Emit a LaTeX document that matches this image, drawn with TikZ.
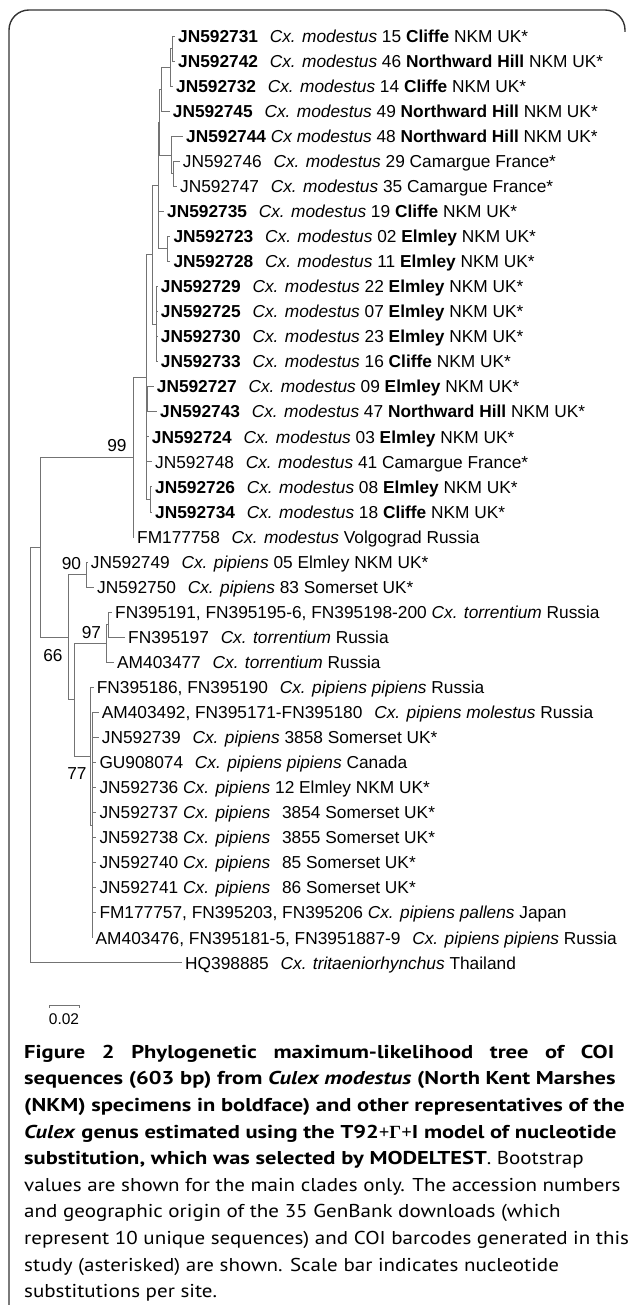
\documentclass[tikz,border=0pt]{standalone}
\usepackage{fontspec}
\setmainfont{Liberation Sans}
\newfontfamily\capreg{PT Sans}[FakeStretch=1.13]
\newfontfamily\capbold{PT Sans}[FakeStretch=1.21]
\newfontfamily\gkfont{Liberation Serif}
\newcommand\gap{\hspace{0.68em}}
\newcommand\bfc[1]{{\capbold\bfseries #1}}
\begin{document}
\begin{tikzpicture}[x=1pt,y=-1pt,
  br/.style={draw=black!55, line width=0.9pt},
  frame/.style={draw=black!80, line width=1.4pt, rounded corners=20pt},
  leaf/.style={anchor=west, inner xsep=3pt, inner ysep=0pt, text height=13pt, text depth=0.6pt, font=\fontsize{17.3}{20}\selectfont},
  boot/.style={anchor=base, inner sep=0pt, font=\fontsize{17.3}{20}\selectfont},
  captxt/.style={anchor=base west, inner sep=0pt, font=\capreg\fontsize{18.6}{22}\selectfont}]
\useasboundingbox (0,0) rectangle (627,1305);
% frame
\draw[frame] (9,1305) -- (9,10) -- (625,10) -- (625,32);
% leaves
\node[leaf] (l1) at (175,36.00) {\textbf{JN592731}\gap\textit{Cx. modestus} 15 \textbf{Cliffe} NKM UK*};
\node[leaf] (l2) at (175,61.05) {\textbf{JN592742}\gap\textit{Cx. modestus} 46 \textbf{Northward Hill} NKM UK*};
\node[leaf] (l3) at (173,86.10) {\textbf{JN592732}\gap\textit{Cx. modestus} 14 \textbf{Cliffe} NKM UK*};
\node[leaf] (l4) at (169.7,111.15) {\textbf{JN592745}\gap\textit{Cx. modestus} 49 \textbf{Northward Hill} NKM UK*};
\node[leaf] (l5) at (183,136.20) {\textbf{JN592744} \textit{Cx modestus} 48 \textbf{Northward Hill} NKM UK*};
\node[leaf] (l6) at (179.7,161.25) {JN592746\gap\textit{Cx. modestus} 29 Camargue France*};
\node[leaf] (l7) at (177,186.30) {JN592747\gap\textit{Cx. modestus} 35 Camargue France*};
\node[leaf] (l8) at (164,211.35) {\textbf{JN592735}\gap\textit{Cx. modestus} 19 \textbf{Cliffe} NKM UK*};
\node[leaf] (l9) at (170.3,236.40) {\textbf{JN592723}\gap\textit{Cx. modestus} 02 \textbf{Elmley} NKM UK*};
\node[leaf] (l10) at (170.3,261.45) {\textbf{JN592728}\gap\textit{Cx. modestus} 11 \textbf{Elmley} NKM UK*};
\node[leaf] (l11) at (157.7,286.50) {\textbf{JN592729}\gap\textit{Cx. modestus} 22 \textbf{Elmley} NKM UK*};
\node[leaf] (l12) at (157.7,311.55) {\textbf{JN592725}\gap\textit{Cx. modestus} 07 \textbf{Elmley} NKM UK*};
\node[leaf] (l13) at (157.7,336.60) {\textbf{JN592730}\gap\textit{Cx. modestus} 23 \textbf{Elmley} NKM UK*};
\node[leaf] (l14) at (157.7,361.65) {\textbf{JN592733}\gap\textit{Cx. modestus} 16 \textbf{Cliffe} NKM UK*};
\node[leaf] (l15) at (153.7,386.70) {\textbf{JN592727}\gap\textit{Cx. modestus} 09 \textbf{Elmley} NKM UK*};
\node[leaf] (l16) at (157,411.75) {\textbf{JN592743}\gap\textit{Cx. modestus} 47 \textbf{Northward Hill} NKM UK*};
\node[leaf] (l17) at (148.7,436.80) {\textbf{JN592724}\gap\textit{Cx. modestus} 03 \textbf{Elmley} NKM UK*};
\node[leaf] (l18) at (152,461.85) {JN592748\gap\textit{Cx. modestus} 41 Camargue France*};
\node[leaf] (l19) at (152,486.90) {\textbf{JN592726}\gap\textit{Cx. modestus} 08 \textbf{Elmley} NKM UK*};
\node[leaf] (l20) at (152,511.95) {\textbf{JN592734}\gap\textit{Cx. modestus} 18 \textbf{Cliffe} NKM UK*};
\node[leaf] (l21) at (134,537.00) {FM177758\gap\textit{Cx. modestus} Volgograd Russia};
\node[leaf] (l22) at (87.7,562.05) {JN592749\gap\textit{Cx. pipiens} 05 Elmley NKM UK*};
\node[leaf] (l23) at (94,587.10) {JN592750\gap\textit{Cx. pipiens} 83 Somerset UK*};
\node[leaf] (l24) at (112,612.15) {FN395191, FN395195-6, FN395198-200 \textit{Cx. torrentium} Russia};
\node[leaf] (l25) at (125,637.20) {FN395197\gap\textit{Cx. torrentium} Russia};
\node[leaf] (l26) at (114,662.25) {AM403477\gap\textit{Cx. torrentium} Russia};
\node[leaf] (l27) at (93.7,687.30) {FN395186, FN395190\gap\textit{Cx. pipiens pipiens} Russia};
\node[leaf] (l28) at (98.7,712.35) {AM403492, FN395171-FN395180\gap\textit{Cx. pipiens molestus} Russia};
\node[leaf] (l29) at (98.7,737.40) {JN592739\gap\textit{Cx. pipiens} 3858 Somerset UK*};
\node[leaf] (l30) at (96.3,762.45) {GU908074\gap\textit{Cx. pipiens pipiens} Canada};
\node[leaf] (l31) at (96.3,787.50) {JN592736 \textit{Cx. pipiens} 12 Elmley NKM UK*};
\node[leaf] (l32) at (96.3,812.55) {JN592737 \textit{Cx. pipiens}\gap3854 Somerset UK*};
\node[leaf] (l33) at (96.3,837.60) {JN592738 \textit{Cx. pipiens}\gap3855 Somerset UK*};
\node[leaf] (l34) at (96.3,862.65) {JN592740 \textit{Cx. pipiens}\gap85 Somerset UK*};
\node[leaf] (l35) at (96.3,887.70) {JN592741 \textit{Cx. pipiens}\gap86 Somerset UK*};
\node[leaf] (l36) at (96.3,912.75) {FM177757, FN395203, FN395206 \textit{Cx. pipiens pallens} Japan};
\node[leaf] (l37) at (92.5,937.80) {AM403476, FN395181-5, FN3951887-9\gap\textit{Cx. pipiens pipiens} Russia};
\node[leaf] (l38) at (182,962.85) {HQ398885\gap\textit{Cx. tritaeniorhynchus} Thailand};
% internal nodes
\coordinate (n1) at (172.7,48.5);
\coordinate (n2) at (170,67.3);
\coordinate (n3) at (161.7,89.2);
\coordinate (n4) at (173.3,173.8);
\coordinate (n5) at (171.7,155);
\coordinate (n6) at (159,122.1);
\coordinate (n10) at (167,248.9);
\coordinate (n7) at (158,185.5);
\coordinate (n11) at (156,324.1);
\coordinate (s1) at (152.7,254.8);
\coordinate (n8) at (147.5,399.2);
\coordinate (n9) at (150.7,499.4);
\coordinate (nb) at (146,377.1);
\coordinate (n99) at (133,457.05);
\coordinate (n90) at (86,574.6);
\coordinate (n97a) at (108.3,624.7);
\coordinate (n97) at (106,643.5);
\coordinate (n77x) at (92.5,825.1);
\coordinate (n77) at (90,756.2);
\coordinate (n74) at (74,699.9);
\coordinate (n66) at (68,637.2);
\coordinate (n40) at (40,547.1);
\coordinate (root) at (30.7,755);
% branches
\foreach \p/\c in {n1/l1.west,n1/l2.west,n2/n1,n2/l3.west,n3/n2,n3/l4.west,
  n4/l6.west,n4/l7.west,n5/l5.west,n5/n4,n6/n3,n6/n5,
  n10/l9.west,n10/l10.west,n7/n6,n7/l8.west,n7/n10,
  n11/l11.west,n11/l12.west,n11/l13.west,n11/l14.west,
  s1/n7,s1/n11,n8/l15.west,n8/l16.west,n9/l19.west,n9/l20.west,
  nb/s1,nb/n8,nb/l17.west,nb/l18.west,nb/n9,
  n99/nb,n99/l21.west,n90/l22.west,n90/l23.west,
  n97a/l24.west,n97a/l25.west,n97/n97a,n97/l26.west,
  n77x/l28.west,n77x/l29.west,n77x/l30.west,n77x/l31.west,n77x/l32.west,
  n77x/l33.west,n77x/l34.west,n77x/l35.west,n77x/l36.west,n77x/l37.west,
  n77/l27.west,n77/n77x,n74/n97,n74/n77,n66/n90,n66/n74,
  n40/n99,n40/n66,root/n40,root/l38.west}
  \draw[br] (\p) |- (\c);
% bootstrap values
\node[boot] (b99) at (117,451) {99};
\node[boot] (b90) at (71.5,569) {90};
\node[boot] (b97) at (91.5,638) {97};
\node[boot] (b66) at (53,661) {66};
\node[boot] (b77) at (77,779) {77};
% scale bar
\coordinate (sbL) at (49,1005);
\coordinate (sbR) at (79,1005);
\draw[br, line width=0.8pt] ([yshift=-3pt]sbL) -- (sbL) -- (sbR) -- ([yshift=-3pt]sbR);
\node[anchor=base, inner sep=0pt, font=\fontsize{15.5}{18}\selectfont] (sbt) at (64,1024) {0.02};
% caption
\node[captxt] (c1) at (24,1058.3) {\makebox[590pt][s]{\capbold\bfseries Figure 2 Phylogenetic maximum-likelihood tree of COI}};
\node[captxt] (c2) at (24,1084.9) {\bfc{sequences (603 bp) from \textit{Culex modestus} (North Kent Marshes}};
\node[captxt] (c3) at (24,1111.5) {\bfc{(NKM) specimens in boldface) and other representatives of the}};
\node[captxt] (c4) at (24,1138.1) {\bfc{\textit{Culex} genus estimated using the T92{\gkfont +Γ+}I model of nucleotide}};
\node[captxt] (c5) at (24,1164.7) {\bfc{substitution, which was selected by MODELTEST}. Bootstrap};
\node[captxt] (c6) at (24,1191.3) {values are shown for the main clades only. The accession numbers};
\node[captxt] (c7) at (24,1217.9) {and geographic origin of the 35 GenBank downloads (which};
\node[captxt] (c8) at (24,1244.5) {represent 10 unique sequences) and COI barcodes generated in this};
\node[captxt] (c9) at (24,1271.1) {study (asterisked) are shown. Scale bar indicates nucleotide};
\node[captxt] (c10) at (24,1297.7) {substitutions per site.};
\end{tikzpicture}
\end{document}
